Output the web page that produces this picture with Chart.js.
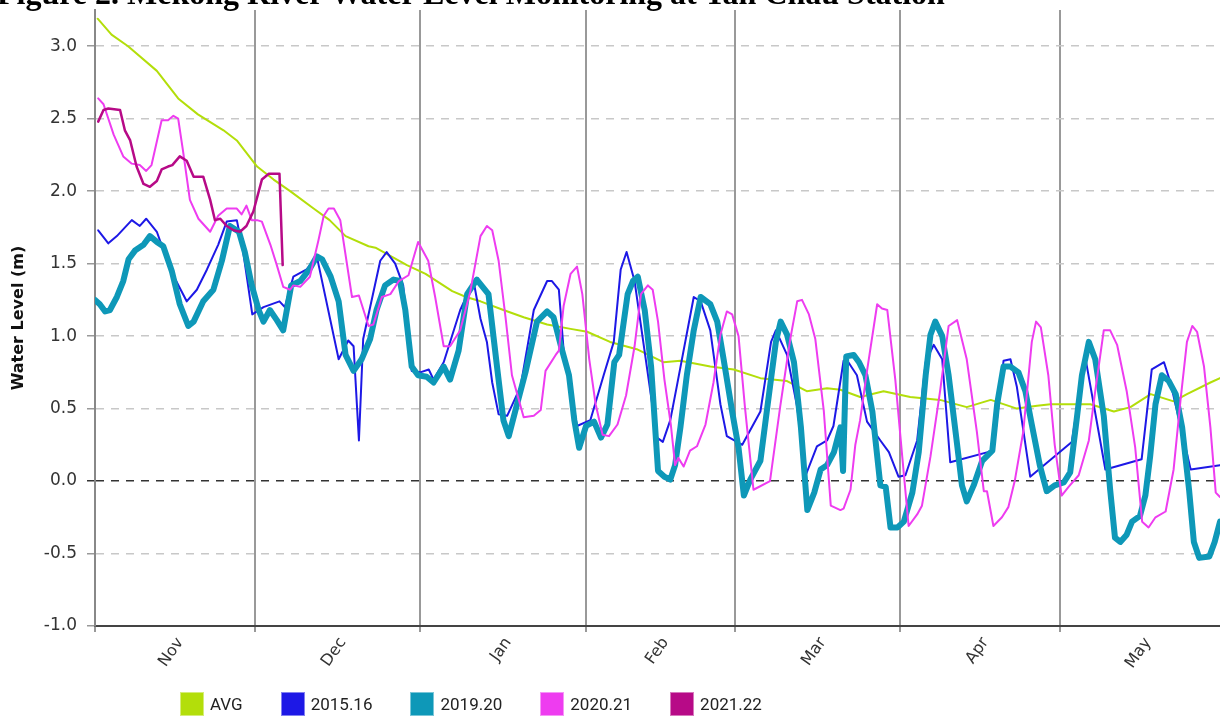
<!DOCTYPE html>
<html>
<head>
<meta charset="utf-8">
<script src="https://cdn.jsdelivr.net/npm/chart.js@4.4.0/dist/chart.umd.min.js"></script>
<style>
  body { margin: 0; background: #fff; }
  #wrap { position: relative; width: 1220px; height: 719px; overflow: hidden; }
  #title { position: absolute; left: -3px; top: -25px; font: bold 32px "Liberation Serif", "Times New Roman", serif; white-space: nowrap; color: #000; }
  #legend { position: absolute; left: 180px; top: 692px; display: flex; font: 17px Roboto, sans-serif; color: #222; }
  .item { display: flex; align-items: center; margin-right: 38px; }
  .box { width: 24px; height: 24px; margin-right: 6px; box-sizing: border-box; border: 1px solid rgba(255,255,255,.45); }
</style>
</head>
<body>
<div id="wrap">
  <canvas id="level-chart"></canvas>
  <div id="title">Figure 2. Mekong River Water Level Monitoring at Tan Chau Station</div>
  <div id="legend"></div>
</div>
<script>
// axis setup (x = days since Nov 1)
var monthLabels = ["Nov", "Dec", "Jan", "Feb", "Mar", "Apr", "May"];
var monthStartDays = [0, 30, 61, 92, 120, 151, 181];
var monthLengths = [30, 31, 31, 28, 31, 30, 31];
var yTicks = [-1, -0.5, 0, 0.5, 1, 1.5, 2, 2.5, 3];

// AVG
var avgDays = [0.5, 3.1, 6.2, 11.6, 15.6, 19.3, 24.1, 26.6, 30.4, 33.5, 36.6, 41, 44, 47, 51.3, 52.6, 58.5, 62, 67, 69.6, 72.3, 76.6, 80.4, 84.8, 89.2, 92.3, 96.6, 101.6, 106.6, 109.8, 115.4, 119.8, 124.8, 129.8, 133.5, 137.3, 139.8, 143.5, 147.9, 152.9, 158.5, 163.5, 168, 172.9, 176.7, 179.2, 186.7, 191.1, 194.2, 198, 202.3, 204.8, 209.2, 211];
var avgLevels = [3.19, 3.08, 3.00, 2.83, 2.64, 2.53, 2.42, 2.35, 2.17, 2.08, 2.00, 1.88, 1.80, 1.69, 1.62, 1.61, 1.49, 1.43, 1.31, 1.27, 1.24, 1.18, 1.13, 1.08, 1.05, 1.03, 0.96, 0.91, 0.82, 0.83, 0.79, 0.77, 0.71, 0.69, 0.62, 0.64, 0.63, 0.58, 0.62, 0.58, 0.56, 0.51, 0.56, 0.50, 0.52, 0.53, 0.53, 0.48, 0.51, 0.60, 0.55, 0.60, 0.68, 0.71];

// 2015.16
var y1516Days = [0.6, 2.5, 4.1, 6.9, 8.4, 9.6, 11.6, 14.1, 17.2, 19.1, 21, 23.1, 24.7, 26.6, 27.8, 29.5, 31.6, 34.6, 35.6, 37.2, 39.7, 41.6, 45.7, 47.5, 48.5, 49.5, 50.3, 53.5, 54.7, 56.3, 57.8, 59.4, 61, 62.6, 63.5, 65.4, 68.5, 71, 72.3, 73.5, 74.5, 75.7, 77.3, 79.8, 82.3, 84.8, 85.7, 87, 87.9, 90.4, 92.9, 95.4, 97.3, 98.6, 99.7, 101.2, 105.4, 106.5, 107.9, 109.1, 112.3, 113.6, 115.4, 117.3, 118.5, 121.4, 124.8, 126.8, 127.7, 129.8, 131.7, 133.3, 135.4, 137.3, 138.5, 140.4, 141.3, 142.9, 144.8, 147.3, 148.9, 150.7, 152, 154.2, 155.8, 157.3, 158.9, 160.4, 168.5, 170.4, 171.7, 172.9, 175.4, 183.2, 185.7, 189.5, 196.3, 198.2, 200.5, 201.7, 205.5, 211];
var y1516Levels = [1.73, 1.64, 1.69, 1.80, 1.76, 1.81, 1.72, 1.46, 1.24, 1.32, 1.46, 1.63, 1.79, 1.80, 1.58, 1.15, 1.20, 1.24, 1.20, 1.41, 1.46, 1.55, 0.84, 0.97, 0.93, 0.28, 0.98, 1.52, 1.58, 1.50, 1.35, 0.76, 0.75, 0.77, 0.70, 0.82, 1.18, 1.38, 1.12, 0.96, 0.68, 0.46, 0.45, 0.65, 1.18, 1.38, 1.38, 1.32, 0.90, 0.38, 0.42, 0.73, 0.96, 1.46, 1.58, 1.38, 0.30, 0.27, 0.42, 0.65, 1.27, 1.24, 1.04, 0.53, 0.31, 0.25, 0.48, 0.96, 1.04, 0.87, 0.51, 0.04, 0.24, 0.28, 0.38, 0.83, 0.82, 0.73, 0.41, 0.28, 0.20, 0.03, 0.04, 0.28, 0.82, 0.94, 0.84, 0.13, 0.21, 0.83, 0.84, 0.65, 0.03, 0.27, 0.86, 0.08, 0.15, 0.77, 0.82, 0.68, 0.08, 0.11];

// 2019.20
var y1920Days = [0, 0.9, 1.9, 2.8, 4.1, 5.3, 6.3, 7.5, 9.1, 10.3, 11.6, 12.8, 14.4, 15.9, 17.5, 18.5, 20.3, 22.2, 23.8, 25.3, 27, 28.1, 29.4, 30.7, 31.6, 32.8, 34.1, 35.3, 36.8, 38.5, 40.2, 41.6, 42.6, 44.2, 45.7, 47, 48.5, 50, 51.6, 52.8, 54.4, 56, 57.2, 58.2, 59.4, 60.6, 62.2, 63.5, 65.4, 66.6, 68.2, 69.8, 71.6, 73.8, 75.4, 76.6, 77.6, 78.8, 80.8, 82.9, 84.8, 86, 87.4, 88.9, 89.9, 90.8, 92.1, 93.6, 94.9, 96.1, 97.4, 98.3, 99.9, 100.9, 101.8, 103.1, 104.3, 105.6, 106.8, 107.9, 108.8, 109.8, 111, 112.3, 113.6, 115.4, 116.7, 117.9, 119.5, 120.7, 121.7, 122.9, 124.8, 126.1, 127.7, 128.6, 129.8, 131.1, 132.4, 133.6, 134.9, 136.1, 137.3, 138.6, 139.8, 140.3, 140.9, 142.3, 143.3, 144.5, 145.8, 147.3, 148.3, 149.2, 150.5, 151.7, 153.3, 154.5, 155.8, 156.7, 157.6, 158.9, 160.1, 161.7, 162.6, 163.5, 164.8, 166.4, 168.3, 169.2, 170.4, 171.7, 173.2, 174.5, 175.7, 177.2, 178.5, 180, 181.7, 182.9, 184.2, 185.1, 186.4, 187.6, 189.2, 190.4, 191.3, 192.3, 193.5, 194.5, 196, 197, 197.9, 198.9, 200.1, 201.4, 202.7, 203.9, 205.2, 206.1, 207.1, 209, 210, 211];
var y1920Levels = [1.25, 1.22, 1.17, 1.18, 1.27, 1.38, 1.53, 1.59, 1.63, 1.69, 1.65, 1.62, 1.45, 1.22, 1.07, 1.10, 1.24, 1.32, 1.52, 1.76, 1.72, 1.58, 1.35, 1.18, 1.10, 1.18, 1.11, 1.04, 1.35, 1.38, 1.46, 1.55, 1.53, 1.41, 1.24, 0.87, 0.76, 0.84, 0.98, 1.18, 1.35, 1.39, 1.38, 1.18, 0.79, 0.73, 0.72, 0.68, 0.79, 0.70, 0.90, 1.29, 1.39, 1.29, 0.79, 0.42, 0.31, 0.48, 0.76, 1.10, 1.17, 1.13, 0.93, 0.73, 0.42, 0.23, 0.38, 0.41, 0.30, 0.39, 0.82, 0.87, 1.29, 1.38, 1.41, 1.18, 0.79, 0.07, 0.03, 0.01, 0.11, 0.37, 0.73, 1.04, 1.27, 1.22, 1.10, 0.84, 0.48, 0.23, -0.10, 0.01, 0.14, 0.51, 0.96, 1.10, 1.01, 0.82, 0.37, -0.20, -0.08, 0.08, 0.11, 0.20, 0.37, 0.07, 0.86, 0.87, 0.82, 0.73, 0.48, -0.03, -0.04, -0.32, -0.32, -0.28, -0.08, 0.20, 0.73, 1.01, 1.10, 1.00, 0.73, 0.25, -0.03, -0.14, -0.03, 0.14, 0.21, 0.53, 0.79, 0.79, 0.75, 0.62, 0.39, 0.11, -0.07, -0.03, -0.01, 0.06, 0.45, 0.73, 0.96, 0.84, 0.45, -0.06, -0.39, -0.42, -0.37, -0.28, -0.24, -0.10, 0.17, 0.53, 0.73, 0.69, 0.60, 0.37, -0.06, -0.42, -0.53, -0.52, -0.42, -0.28];

// 2020.21
var y2021Days = [0.6, 1.6, 3.5, 5.3, 6.9, 8.4, 9.6, 10.6, 12.5, 13.7, 14.7, 15.6, 16.5, 17.8, 19.4, 21.6, 23.1, 24.7, 26.6, 27.5, 28.4, 29.4, 30.4, 31.3, 32.9, 34.1, 35.3, 36.6, 37.2, 38.5, 40.3, 41.9, 42.9, 43.8, 44.8, 46, 48.2, 49.5, 51.3, 52.2, 53.8, 55.4, 57, 58.8, 60.6, 62.5, 63.8, 65.4, 66.6, 68.5, 70.4, 72.3, 73.5, 74.5, 75.7, 77, 78.2, 80.4, 82.3, 83.6, 84.5, 86.4, 87, 87.9, 89.2, 90.4, 91.4, 92.7, 93.9, 95.2, 96.4, 98, 99.6, 101.2, 102.4, 103.7, 104.6, 105.6, 106.8, 108, 108.8, 109.4, 110.4, 111.6, 112.9, 114.5, 116, 117.3, 118.5, 119.5, 120.7, 121.9, 123.5, 126.6, 128.5, 130.4, 131.7, 132.6, 133.9, 135.1, 136.7, 138, 139.8, 140.4, 141.7, 142.6, 143.5, 144.8, 146.7, 147.6, 148.6, 150.1, 151.4, 152.6, 154.2, 155.1, 156.7, 158.5, 160.1, 161.7, 163.5, 165.4, 166.7, 167.3, 168.5, 170.1, 171.3, 172.5, 174.1, 175.7, 176.5, 177.4, 178.8, 180, 181.3, 182.6, 184.5, 186.4, 187.6, 189.2, 190.4, 191.7, 193.5, 195.1, 196.4, 197.6, 198.9, 200.8, 202.3, 203.6, 204.8, 205.8, 206.7, 208, 209.2, 210.2, 211];
var y2021Levels = [2.64, 2.60, 2.39, 2.24, 2.19, 2.18, 2.14, 2.18, 2.49, 2.49, 2.52, 2.50, 2.28, 1.94, 1.81, 1.72, 1.83, 1.88, 1.88, 1.84, 1.90, 1.80, 1.80, 1.79, 1.63, 1.49, 1.34, 1.32, 1.35, 1.34, 1.41, 1.66, 1.83, 1.88, 1.88, 1.80, 1.27, 1.28, 1.07, 1.08, 1.27, 1.29, 1.38, 1.42, 1.65, 1.52, 1.27, 0.93, 0.93, 1.04, 1.31, 1.69, 1.76, 1.73, 1.52, 1.13, 0.73, 0.44, 0.45, 0.49, 0.76, 0.87, 0.90, 1.21, 1.43, 1.48, 1.29, 0.84, 0.53, 0.32, 0.31, 0.39, 0.59, 0.93, 1.29, 1.35, 1.32, 1.10, 0.70, 0.39, 0.11, 0.16, 0.10, 0.21, 0.24, 0.39, 0.68, 1.01, 1.17, 1.15, 1.00, 0.51, -0.06, 0.00, 0.51, 0.98, 1.24, 1.25, 1.15, 0.98, 0.48, -0.17, -0.20, -0.19, -0.06, 0.25, 0.42, 0.76, 1.22, 1.19, 1.18, 0.70, 0.17, -0.31, -0.23, -0.17, 0.17, 0.62, 1.07, 1.11, 0.84, 0.34, -0.07, -0.07, -0.31, -0.25, -0.18, 0.00, 0.34, 0.96, 1.10, 1.06, 0.73, 0.25, -0.10, -0.04, 0.04, 0.28, 0.62, 1.04, 1.04, 0.94, 0.62, 0.23, -0.28, -0.32, -0.25, -0.21, 0.08, 0.56, 0.96, 1.07, 1.03, 0.79, 0.37, -0.08, -0.11];

// 2021.22
var y2122Days = [0.6, 1.6, 2.5, 4.7, 5.6, 6.6, 7.8, 9.1, 10.3, 11.6, 12.5, 13.7, 14.5, 15.9, 17.2, 18.5, 20.3, 21.6, 22.5, 23.5, 24.7, 26, 27.2, 28.4, 29.7, 31.3, 32.6, 34.6, 35.2];
var y2122Levels = [2.48, 2.56, 2.57, 2.56, 2.42, 2.35, 2.17, 2.05, 2.03, 2.07, 2.15, 2.17, 2.18, 2.24, 2.21, 2.10, 2.10, 1.94, 1.80, 1.81, 1.76, 1.73, 1.72, 1.76, 1.86, 2.08, 2.12, 2.12, 1.49];

function toPoints(days, levels) {
    return days.map(function (d, i) { return { x: d, y: levels[i] }; });
}

// tick positions: month boundaries carry the grid lines, mid-month carries the label
var labelAt = {};
var xTickValues = monthStartDays.slice();
monthStartDays.forEach(function (start, i) {
    var mid = start + monthLengths[i] / 2 + 1;
    labelAt[mid] = monthLabels[i];
    xTickValues.push(mid);
});
xTickValues.sort(function (a, b) { return a - b; });

var series = [
    { label: "AVG", days: avgDays, levels: avgLevels, color: "#b3de0a", width: 2 },
    { label: "2015.16", days: y1516Days, levels: y1516Levels, color: "#1d18e6", width: 2 },
    { label: "2019.20", days: y1920Days, levels: y1920Levels, color: "#0e98b8", width: 6 },
    { label: "2020.21", days: y2021Days, levels: y2021Levels, color: "#ee3cf0", width: 2 },
    { label: "2021.22", days: y2122Days, levels: y2122Levels, color: "#b70a87", width: 2.5 }
];

Chart.defaults.font.family = "'DejaVu Sans', Verdana, sans-serif";
Chart.defaults.color = "#333";

var ctx = document.getElementById("level-chart").getContext("2d");
var levelChart = new Chart(ctx, {
    type: "line",
    data: {
        datasets: series.map(function (s, i) {
            return {
                label: s.label,
                data: toPoints(s.days, s.levels),
                borderColor: s.color,
                backgroundColor: s.color,
                borderWidth: s.width,
                pointRadius: 0,
                tension: 0,
                borderJoinStyle: "round",
                borderCapStyle: "round",
                order: series.length - i
            };
        })
    },
    options: {
        responsive: true,
        maintainAspectRatio: false,
        animation: false,
        layout: { padding: { top: 10, left: 0, right: 0, bottom: 0 } },
        plugins: {
            legend: { display: false },
            tooltip: { enabled: false }
        },
        scales: {
            x: {
                type: "linear",
                min: 0,
                max: 211,
                afterBuildTicks: function (scale) {
                    scale.ticks = xTickValues.map(function (v) { return { value: v }; });
                },
                afterFit: function (scale) { scale.height = 93; },
                ticks: {
                    autoSkip: false,
                    minRotation: 55,
                    maxRotation: 55,
                    padding: 2,
                    color: "#333",
                    font: { size: 16 },
                    callback: function (value) { return labelAt[value] || ""; }
                },
                grid: {
                    color: function (c) {
                        return c.tick && monthStartDays.indexOf(c.tick.value) >= 0 ? "#999" : "rgba(0,0,0,0)";
                    },
                    lineWidth: 2,
                    tickLength: 6
                },
                border: { display: true, color: "#444", width: 2 }
            },
            y: {
                min: -1,
                max: 3.25,
                afterBuildTicks: function (scale) {
                    scale.ticks = yTicks.map(function (v) { return { value: v }; });
                },
                afterFit: function (scale) {
                    scale.width = 95;
                    scale.paddingTop = 0;
                    scale.paddingBottom = 0;
                },
                ticks: {
                    padding: 10,
                    color: "#333",
                    font: { size: 17 },
                    callback: function (value) { return value.toFixed(1); }
                },
                grid: {
                    color: function (c) {
                        if (!c.tick) return "#c8c8c8";
                        if (c.tick.value === 0) return "#333";
                        if (c.tick.value === -1) return "rgba(0,0,0,0)";
                        return "#c8c8c8";
                    },
                    tickColor: function (c) {
                        return c.tick && c.tick.value === 0 ? "#333" : "#999";
                    },
                    lineWidth: 1.5,
                    tickLength: 8
                },
                border: { display: true, color: "#888", width: 2, dash: [8, 7] },
                title: {
                    display: true,
                    text: "Water Level (m)",
                    color: "#111",
                    font: { size: 16, weight: "bold" },
                    padding: { top: 9 }
                }
            }
        }
    }
});

// legend below the plot
var legendEl = document.getElementById("legend");
series.forEach(function (s) {
    var item = document.createElement("div");
    item.className = "item";
    var box = document.createElement("span");
    box.className = "box";
    box.style.background = s.color;
    var text = document.createElement("span");
    text.textContent = s.label;
    item.appendChild(box);
    item.appendChild(text);
    legendEl.appendChild(item);
});
</script>
</body>
</html>
